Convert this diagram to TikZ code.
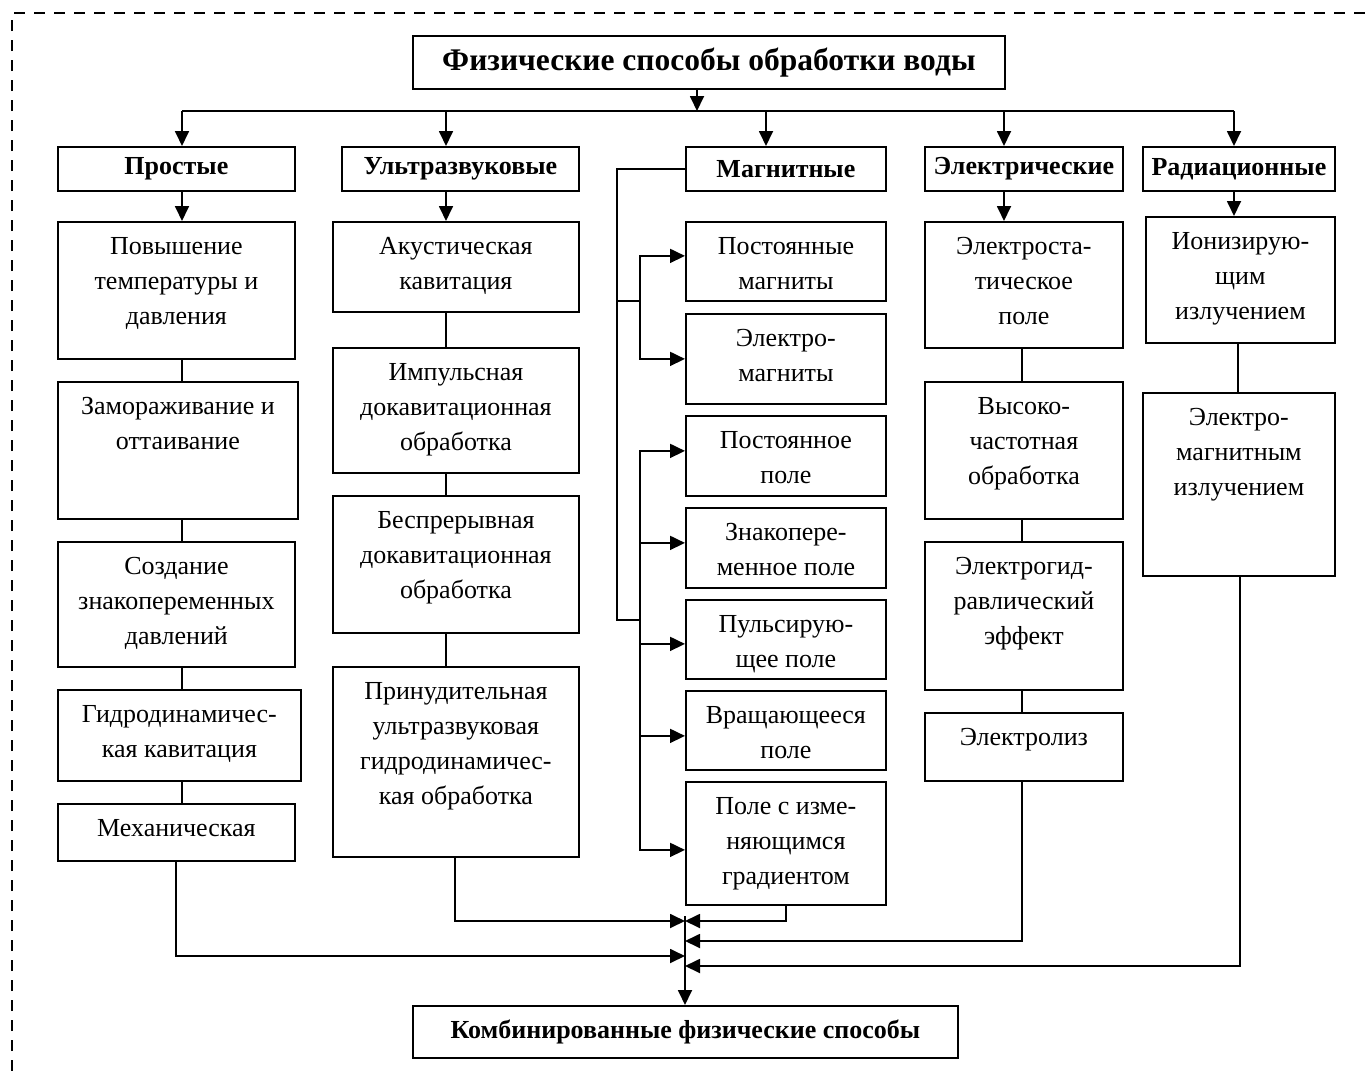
\documentclass[tikz,border=0pt]{standalone}
\usepackage{fontspec}
\setmainfont{Liberation Serif}
\usetikzlibrary{arrows.meta}

% text of a box, set from the top
\newcommand{\bt}[3]{\parbox[c][#2pt][t]{#1pt}{\fontsize{26}{35}\selectfont\centering\rule{0pt}{33pt}#3}}

\begin{document}
\begin{tikzpicture}[x=1pt,y=-1pt]
      \tikzset{
        box/.style={draw,line width=1.8pt,inner sep=0pt,anchor=north west},
        cat/.style={box,font=\fontsize{26}{30}\selectfont\bfseries,minimum height=44pt},
        arr/.style={line width=1.8pt,-{Triangle[length=15pt,width=14pt]}},
        wire/.style={line width=1.8pt},
        frame/.style={line width=2.2pt,dash pattern=on 11pt off 9pt}
      }
      \useasboundingbox (0,0) rectangle (1366,1071);
      \draw[frame] (12,1071) -- (12,13) -- (1366,13);

      \node[cat,minimum width=592pt,minimum height=53pt,font=\fontsize{31.5}{36}\selectfont\bfseries] (title) at (412,35) {Физические способы обработки воды};

      \node[cat,minimum width=237pt] (c1) at (57,146) {Простые};
      \node[cat,minimum width=237pt] (c2) at (341,146) {Ультразвуковые};
      \node[cat,minimum width=200pt] (c3) at (685,146) {Магнитные};
      \node[cat,minimum width=198pt] (c4) at (924,146) {Электрические};
      \node[cat,minimum width=192pt] (c5) at (1142,146) {Радиационные};

      \node[box] (s1) at (57,221) {\bt{237}{137}{Повышение\\температуры и\\давления}};
      \node[box] (s2) at (57,381) {\bt{240}{137}{Замораживание и\\оттаивание}};
      \node[box] (s3) at (57,541) {\bt{237}{125}{Создание\\знакопеременных\\давлений}};
      \node[box] (s4) at (57,689) {\bt{243}{91}{Гидродинамичес-\\кая кавитация}};
      \node[box] (s5) at (57,803) {\bt{237}{57}{Механическая}};

      \node[box] (u1) at (332,221) {\bt{246}{90}{Акустическая\\кавитация}};
      \node[box] (u2) at (332,347) {\bt{246}{125}{Импульсная\\докавитационная\\обработка}};
      \node[box] (u3) at (332,495) {\bt{246}{137}{Беспрерывная\\докавитационная\\обработка}};
      \node[box] (u4) at (332,666) {\bt{246}{190}{Принудительная\\ультразвуковая\\гидродинамичес-\\кая обработка}};

      \node[box] (m1) at (685,221) {\bt{200}{79}{Постоянные\\магниты}};
      \node[box] (m2) at (685,313) {\bt{200}{90}{Электро-\\магниты}};
      \node[box] (m3) at (685,415) {\bt{200}{80}{Постоянное\\поле}};
      \node[box] (m4) at (685,507) {\bt{200}{80}{Знакопере-\\менное поле}};
      \node[box] (m5) at (685,599) {\bt{200}{79}{Пульсирую-\\щее поле}};
      \node[box] (m6) at (685,690) {\bt{200}{79}{Вращающееся\\поле}};
      \node[box] (m7) at (685,781) {\bt{200}{123}{Поле с изме-\\няющимся\\градиентом}};

      \node[box] (e1) at (924,221) {\bt{198}{126}{Электроста-\\тическое\\поле}};
      \node[box] (e2) at (924,381) {\bt{198}{137}{Высоко-\\частотная\\обработка}};
      \node[box] (e3) at (924,541) {\bt{198}{148}{Электрогид-\\равлический\\эффект}};
      \node[box] (e4) at (924,712) {\bt{198}{68}{Электролиз}};

      \node[box] (r1) at (1145,216) {\bt{189}{126}{Ионизирую-\\щим\\излучением}};
      \node[box] (r2) at (1142,392) {\bt{192}{183}{Электро-\\магнитным\\излучением}};

      \node[cat,minimum width=545pt,minimum height=52pt] (comb) at (412,1005) {Комбинированные физические способы};

      % bus from the title
      \coordinate (tb) at (697,111);
      \coordinate (a1) at (182,111);
      \coordinate (a2) at (446,111);
      \coordinate (a3) at (766,111);
      \coordinate (a4) at (1004,111);
      \coordinate (a5) at (1234,111);
      \coordinate (b4) at (1022,0);
      \coordinate (b5) at (1238,0);
      \draw[arr] (title.south -| tb) -- (tb);
      \draw[wire] (a1) -- (a5);
      \foreach \i in {1,...,5}
        \draw[arr] (a\i) -- (a\i |- c\i.north);

      % columns
      \draw[arr] (a1 |- c1.south) -- (a1 |- s1.north);
      \draw[arr] (a2 |- c2.south) -- (a2 |- u1.north);
      \draw[arr] (a4 |- c4.south) -- (a4 |- e1.north);
      \draw[arr] (a5 |- c5.south) -- (a5 |- r1.north);
      \foreach \p/\q in {s1/s2,s2/s3,s3/s4,s4/s5}
        \draw[wire] (a1 |- \p.south) -- (a1 |- \q.north);
      \foreach \p/\q in {u1/u2,u2/u3,u3/u4}
        \draw[wire] (a2 |- \p.south) -- (a2 |- \q.north);
      \foreach \p/\q in {e1/e2,e2/e3,e3/e4}
        \draw[wire] (b4 |- \p.south) -- (b4 |- \q.north);
      \draw[wire] (b5 |- r1.south) -- (b5 |- r2.north);

      % magnetic branches
      \coordinate (v1) at (617,301);
      \coordinate (v2) at (617,620);
      \coordinate (h1) at (640,301);
      \coordinate (h2) at (640,620);
      \draw[wire] (c3.west) -| (v2) -- (h2);
      \draw[wire] (v1) -- (h1);
      \draw[arr] (h1) |- ([yshift=5.5pt]m1.west);
      \draw[arr] (h1) |- (m2.west);
      \foreach \n/\s in {m3/5,m4/5,m5/-4.5,m6/-5.5,m7/-6.5}
        \draw[arr] (h2) |- ([yshift=\s pt]\n.west);

      % into the combined box
      \coordinate (mt) at (685,916);
      \coordinate (o1) at (176,956);
      \coordinate (o2) at (455,921);
      \coordinate (o3) at (786,921);
      \coordinate (o4) at (1022,941);
      \coordinate (o5) at (1240,966);
      \draw[arr] (mt) -- (mt |- comb.north);
      \draw[arr] (s5.south -| o1) -- (o1) -- (o1 -| mt);
      \draw[arr] (u4.south -| o2) -- (o2) -- (o2 -| mt);
      \draw[arr] (m7.south -| o3) -- (o3) -- (o3 -| mt);
      \draw[arr] (e4.south -| o4) -- (o4) -- (o4 -| mt);
      \draw[arr] (r2.south -| o5) -- (o5) -- (o5 -| mt);
    \end{tikzpicture}
\end{document}
